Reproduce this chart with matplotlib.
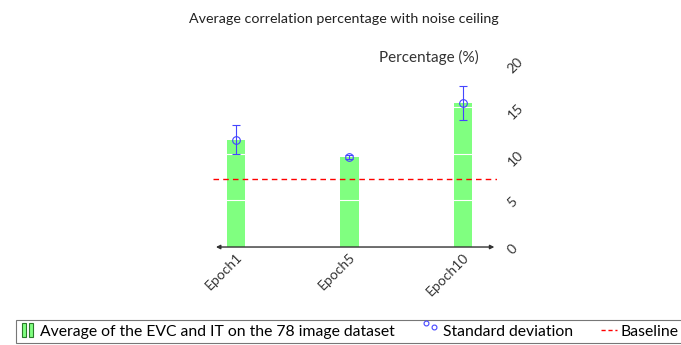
import matplotlib.pyplot as plt
from matplotlib.lines import Line2D
from matplotlib.patches import Rectangle
from matplotlib.legend_handler import HandlerBase

plt.rcParams['font.family'] = ['Lato', 'DejaVu Sans']

epochs = ['Epoch1', 'Epoch5', 'Epoch10']
means = [11.5, 9.6, 15.4]
stds = [1.5, 0.2, 1.8]
baseline = 7.3
yticks = [0, 5, 10, 15, 20]

err_blue = '#4545ff'


class BarIcon(HandlerBase):
    def create_artists(self, legend, orig, xd, yd, w, h, fs, trans):
        r1 = Rectangle((xd + 1, yd - 1), 3, h + 2, fc='#80ff80', ec='#2a7a2a', lw=0.8, transform=trans)
        r2 = Rectangle((xd + 6, yd - 1), 3, h + 2, fc='#80ff80', ec='#2a7a2a', lw=0.8, transform=trans)
        return [r1, r2]


class CircleIcon(HandlerBase):
    def create_artists(self, legend, orig, xd, yd, w, h, fs, trans):
        c1 = Line2D([xd + 2], [yd + h + 1], marker='o', ms=3.5, mfc='none', mec=err_blue, mew=0.8, ls='', transform=trans)
        c2 = Line2D([xd + 8], [yd + h - 2], marker='o', ms=3.5, mfc='none', mec=err_blue, mew=0.8, ls='', transform=trans)
        return [c1, c2]


fig = plt.figure(figsize=(6.81, 3.45), dpi=100)
ax = fig.add_axes([0.313, 0.284, 0.417, 0.542])

x = list(range(len(epochs)))
ax.bar(x, means, width=0.16, color='#80ff80', zorder=1)
ax.errorbar(x, means, yerr=stds, fmt='o', ms=5.5, mfc='none', mec=err_blue, ecolor=err_blue,
            elinewidth=0.8, capsize=3, capthick=0.8, mew=0.8, zorder=4)
ax.axhline(baseline, color='red', ls=(0, (4, 3)), lw=1, zorder=3)

ax.set_xlim(-0.2, 2.3)
ax.set_ylim(0, 20)
ax.set_yticks(yticks)
ax.yaxis.tick_right()
ax.tick_params(axis='y', length=0, labelsize=10, labelrotation=45, labelcolor='#333333', pad=6)
ax.tick_params(axis='x', length=0, labelsize=10, labelcolor='#333333', pad=3)
ax.set_xticks(x)
ax.set_xticklabels(epochs, rotation=45, ha='right', va='top', rotation_mode='anchor')
ax.grid(axis='y', color='white', lw=0.8, zorder=2)
ax.set_axisbelow(False)
for s in ax.spines.values():
    s.set_visible(False)

ax.annotate('', xy=(1.0, 0), xytext=(0.0, 0), xycoords='axes fraction',
            arrowprops=dict(arrowstyle='<|-|>', color='#333333', lw=1, mutation_scale=6))

ax.text(0.935, 0.975, 'Percentage (%)', transform=ax.transAxes, ha='right', va='bottom',
        fontsize=11, color='#333333')
fig.text(0.505, 0.945, 'Average correlation percentage with noise ceiling', ha='center',
         va='center', fontsize=10.3, color='#222222')

handles = [Rectangle((0, 0), 1, 1), Line2D([], []),
           Line2D([], [], color='red', ls=(0, (3, 2)), lw=1)]
labels = ['Average of the EVC and IT on the 78 image dataset', 'Standard deviation', 'Baseline']
leg = fig.legend(handles, labels, loc='lower left', bbox_to_anchor=(0.012, -0.018), ncol=3,
                 fontsize=11.3, frameon=True, fancybox=False, edgecolor='#555555',
                 handlelength=1.0, handletextpad=0.25, columnspacing=1.8, borderpad=0.3,
                 handler_map={handles[0]: BarIcon(), handles[1]: CircleIcon()})
leg.get_frame().set_linewidth(0.8)

fig.savefig('out.png', dpi=100)
